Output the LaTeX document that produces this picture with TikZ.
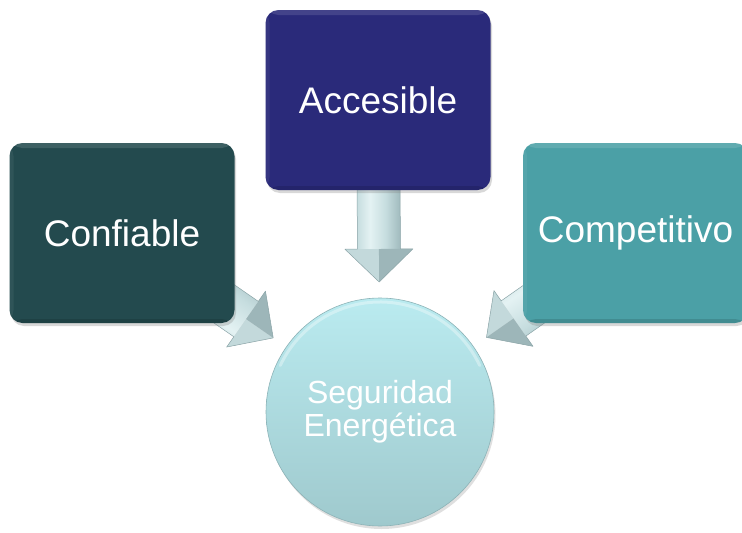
\documentclass[tikz,border=0pt]{standalone}
\usepackage{fontspec}
\setmainfont{Liberation Sans}
\usetikzlibrary{calc,shadows,backgrounds}
\definecolor{cConf}{HTML}{234A4E}
\definecolor{cAcc}{HTML}{2A2A7A}
\definecolor{cComp}{HTML}{4BA0A6}
\definecolor{cCircTop}{HTML}{BAEBF0}
\definecolor{cCircBot}{HTML}{9FC9CD}
\definecolor{cCircEdge}{HTML}{8DB3B7}
\definecolor{aL}{HTML}{E4F2F3}
\definecolor{aM}{HTML}{C6DDDF}
\definecolor{aD}{HTML}{A0BABD}
\definecolor{aHL}{HTML}{C3D9DB}
\definecolor{aHD}{HTML}{9DB6B9}
\definecolor{aEdge}{HTML}{8CA6A9}
\pgfdeclarehorizontalshading{shaftsh}{100bp}{color(0bp)=(aM); color(25bp)=(aM); color(40bp)=(aL); color(58bp)=(aM); color(75bp)=(aD); color(100bp)=(aD)}
\tikzset{
  box/.style={rounded corners=13pt, minimum width=225pt, minimum height=180pt,
    inner sep=0pt, text=white, font=\fontsize{37}{40}\selectfont,
    drop shadow={shadow xshift=1.5pt, shadow yshift=-3pt, opacity=0.3},
    path picture={
      \fill[white, opacity=0.12] (path picture bounding box.north west) rectangle ($(path picture bounding box.north east)+(0,-5pt)$);
      \fill[white, opacity=0.06] (path picture bounding box.north west) rectangle ($(path picture bounding box.south west)+(4pt,0)$);
      \fill[black, opacity=0.12] (path picture bounding box.south west) rectangle ($(path picture bounding box.south east)+(0,4pt)$);
    }},
  hub/.style={circle, minimum size=228pt, inner sep=0pt, text=white, align=center,
    font=\fontsize{32}{33}\selectfont, draw=cCircEdge, line width=0.6pt,
    top color=cCircTop, bottom color=cCircBot,
    drop shadow={shadow xshift=1.5pt, shadow yshift=-3pt, opacity=0.25}},
  rimlight/.style={white, opacity=0.35, line width=3pt, line cap=round},
  arrowedge/.style={draw=aEdge, line width=0.5pt, line join=round},
  arrowshadow/.style={fill=black, opacity=0.12}
}
\newcommand\drawblockarrow[3]{% #1 start, #2 tip, #3 shading angle
  \coordinate (B) at ($(#2)!33pt!(#1)$);
  \coordinate (s1) at ($(#1)!21.5pt!90:(#2)$);
  \coordinate (s2) at ($(#1)!21.5pt!-90:(#2)$);
  \coordinate (b1) at ($(B)!21.5pt!90:(#2)$);
  \coordinate (b2) at ($(B)!21.5pt!-90:(#2)$);
  \coordinate (h1) at ($(B)!34pt!90:(#2)$);
  \coordinate (h2) at ($(B)!34pt!-90:(#2)$);
  \fill[arrowshadow, shift={(2pt,-3pt)}] (s1) -- (b1) -- (h1) -- (#2) -- (h2) -- (b2) -- (s2) -- cycle;
  \shade[shading=shaftsh, shading angle=#3] (s1) -- (b1) -- (b2) -- (s2) -- cycle;
  \fill[aHL] (B) -- (h2) -- (#2) -- cycle;
  \fill[aHD] (B) -- (h1) -- (#2) -- cycle;
  \draw[arrowedge] (s1) -- (b1) -- (h1) -- (#2) -- (h2) -- (b2) -- (s2);
}
\begin{document}
\begin{tikzpicture}[x=1pt, y=-1pt]
\useasboundingbox (0,0) rectangle (742,533);
\clip (0,0) rectangle (742,533);
\node[box, fill=cConf] (conf) at (122,233) {Confiable};
\node[box, fill=cAcc] (acc) at (378,100) {Accesible};
\node[box, fill=cComp] (comp) at (635.5,233) {Competitivo};
\node[hub] (seg) at (380,412) {Seguridad\\Energética};
\draw[rimlight] ([shift={(25:110pt)}]seg.center) arc[start angle=25, end angle=155, radius=110pt];
\coordinate (tConf) at ($(seg.center)!130pt!(conf.center)$);
\coordinate (sConf) at ($(seg.center)!245pt!(conf.center)$);
\coordinate (tAcc) at ($(seg.center)!130pt!(acc.center)$);
\coordinate (sAcc) at ($(seg.center)!245pt!(acc.center)$);
\coordinate (tComp) at ($(seg.center)!130pt!(comp.center)$);
\coordinate (sComp) at ($(seg.center)!245pt!(comp.center)$);
\begin{scope}[on background layer]
  \fill[white] (0,0) rectangle (742,533);
  \drawblockarrow{sAcc}{tAcc}{0}
  \drawblockarrow{sConf}{tConf}{55}
  \drawblockarrow{sComp}{tComp}{-55}
\end{scope}
\end{tikzpicture}
\end{document}
